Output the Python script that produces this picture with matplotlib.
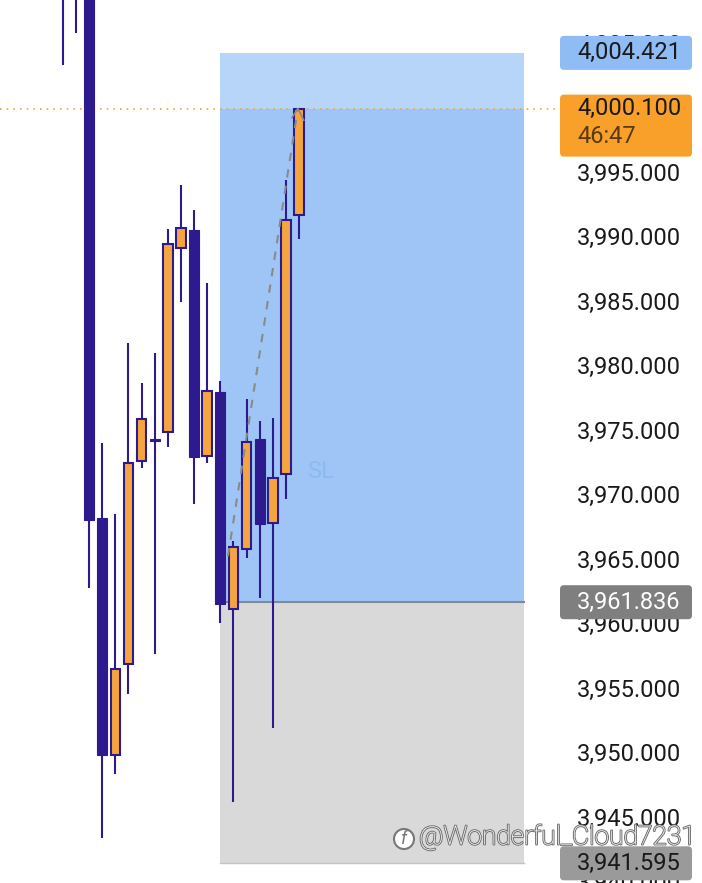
import matplotlib.pyplot as plt
from matplotlib.patches import FancyBboxPatch, Rectangle, Circle
import matplotlib.patheffects as pe

# candle data (bar index 0..18), values
opens = [4012.0, 4013.0, 4012.0, 3968.33, 3949.96, 3957.02, 3972.75, 3974.50, 3975.00, 3989.26,
         3990.66, 3973.14, 3978.10, 3961.28, 3965.93, 3974.46, 3967.95, 3971.74, 3991.82]
closes = [4010.0, 4011.0, 3968.18, 3949.96, 3956.63, 3972.60, 3976.01, 3974.30, 3989.57, 3990.81,
          3973.06, 3978.18, 3961.67, 3966.09, 3974.22, 3967.87, 3971.43, 3991.43, 4000.10]
highs = [4014.0, 4015.0, 4014.0, 3974.15, 3968.64, 3981.90, 3978.80, 3981.12, 3990.74, 3994.15,
         3992.21, 3986.55, 3978.95, 3966.55, 3977.56, 3975.85, 3976.09, 3994.53, 4000.10]
lows = [4003.5, 4006.0, 3962.9, 3943.53, 3948.49, 3954.69, 3972.21, 3957.79, 3973.84, 3985.08,
        3969.42, 3972.60, 3960.19, 3946.32, 3965.23, 3962.13, 3952.05, 3969.81, 3989.96]

last_price = 4000.100
countdown = "46:47"
target = 4004.421
entry = 3961.836
stop = 3941.595
box_start, box_end = 11.95, 35.1
trend_x = [12.58, 17.9]
trend_y = [3965.4, 4000.1]
ticks = [3940, 3945, 3950, 3955, 3960, 3965, 3970, 3975, 3980, 3985, 3990, 3995, 4000, 4005]

up_col = "#f5a540"
dn_col = "#2e1a8f"
fs = 17

plt.rcParams["font.family"] = ["Roboto", "DejaVu Sans"]
fig = plt.figure(figsize=(7.02, 8.83), dpi=100)
ax = fig.add_axes([0, 0, 555 / 702, 1])
ax.set_xlim(-4.77, 37.47)
ax.set_ylim(3940.07, 4008.52)
ax.axis("off")

# position zones
ax.add_patch(Rectangle((box_start, stop), box_end - box_start, entry - stop,
                       facecolor="#d9d9d9", edgecolor="none", zorder=0))
ax.add_patch(Rectangle((box_start, entry), box_end - box_start, last_price - entry,
                       facecolor="#9ec5f6", edgecolor="none", zorder=0))
ax.add_patch(Rectangle((box_start, last_price), box_end - box_start, target - last_price,
                       facecolor="#b6d5f9", edgecolor="none", zorder=0))
ax.plot([box_start, box_end], [entry, entry], color="#7f8a94", lw=1.5, zorder=1)
ax.plot([box_start, box_end], [stop, stop], color="#c4c4c4", lw=1, zorder=1)
ax.text(19.6, 3972.0, "SL", color="#8dbaf0", fontsize=17, va="center", ha="center", zorder=1)

# candles
for i in range(len(opens)):
    o, c = opens[i], closes[i]
    ax.vlines(i, lows[i], highs[i], color=dn_col, lw=1.5, zorder=3)
    if c >= o:
        ax.bar(i, c - o, bottom=o, width=0.72, color=up_col, edgecolor=dn_col, lw=1.5, zorder=4)
    else:
        ax.bar(i, o - c, bottom=c, width=0.76, color=dn_col, edgecolor=dn_col, lw=0.8, zorder=4)

ax.plot(trend_x, trend_y, color="#8a8a8a", lw=1.5, ls=(0, (4, 4)), zorder=5)
ax.plot([17.45, 17.9, 18.35], [3999.4, 4000.1, 3999.2], color="#8a8a8a", lw=1.2, zorder=5)
ax.axhline(last_price, color="#f0a63a", lw=1.2, ls=(0, (1, 3)), zorder=2)

fig.canvas.draw()


def ypix(p):
    return ax.transData.transform((0, p))[1]


for t in ticks:
    fig.text(577 / 702, ypix(t) / 883, f"{t:,.3f}", fontsize=fs, color="#1a1a1a",
             va="center", ha="left")


def label(p, fc, h=34, top_off=None):
    y = ypix(p)
    if top_off is None:
        y0 = y - h / 2
    else:
        y0 = y + top_off - h
    fig.patches.append(FancyBboxPatch((560, y0), 132, h, boxstyle="round,pad=0,rounding_size=4",
                                      facecolor=fc, edgecolor="none", transform=None, zorder=6))


label(target, "#8fbcf5")
fig.text(577 / 702, ypix(target) / 883, f"{target:,.3f}", fontsize=fs, color="#1a1a1a",
         va="center", ha="left", zorder=7)

label(last_price, "#f9a02a", h=62, top_off=14)
fig.text(577 / 702, ypix(last_price) / 883, f"{last_price:,.3f}", fontsize=fs, color="#1a1a1a",
         va="center", ha="left", zorder=7)
fig.text(577 / 702, (ypix(last_price) - 28) / 883, countdown, fontsize=fs, color="#5a3a10",
         va="center", ha="left", zorder=7)

label(entry, "#7f7f7f")
fig.text(577 / 702, ypix(entry) / 883, f"{entry:,.3f}", fontsize=fs, color="white",
         va="center", ha="left", zorder=7)

label(stop, "#9a9a9a")
fig.text(577 / 702, ypix(stop) / 883, f"{stop:,.3f}", fontsize=fs, color="#1a1a1a",
         va="center", ha="left", zorder=7)

# watermark
fig.patches.append(Circle((404, 883 - 839), 10, facecolor="white", edgecolor="#777777",
                          lw=1.5, transform=None, zorder=8))
fig.text(404 / 702, 44 / 883, "f", fontsize=13, color="#777777", fontstyle="italic",
         va="center", ha="center", zorder=9)
fig.text(419 / 702, 46 / 883, "@Wonderful_Cloud7231", fontsize=19, color="white",
         fontweight="light", va="center", ha="left", zorder=8,
         path_effects=[pe.withStroke(linewidth=1.5, foreground="#777777")])

fig.savefig("out.png", dpi=100)
